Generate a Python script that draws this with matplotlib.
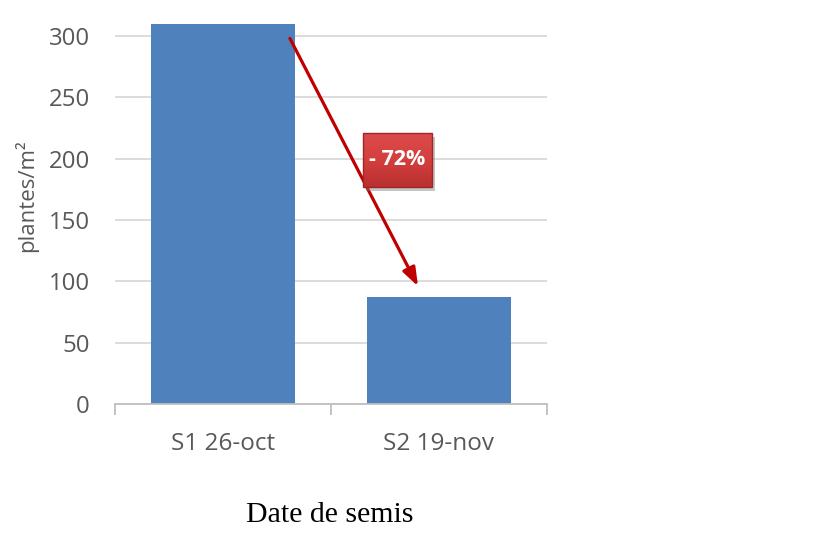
import matplotlib
matplotlib.use("Agg")
import matplotlib.pyplot as plt
import numpy as np
from matplotlib.patches import Rectangle
from matplotlib.colors import LinearSegmentedColormap

categories = ["S1 26-oct", "S2 19-nov"]
values = [310, 87]
yticks = [0, 50, 100, 150, 200, 250, 300]
change_label = "- 72%"
xlabel = "Date de semis"
ylabel = "plantes/m²"

fig = plt.figure(figsize=(8.2, 5.37), dpi=100)
ax = fig.add_axes([0.1402, 0.2477, 0.667 - 0.1402, 0.9559 - 0.2477])

x = np.arange(len(categories))
ax.bar(x, values, width=0.667, color="#4F81BD", zorder=2)
ax.set_xlim(-0.5, 1.5)
ax.set_ylim(0, 310)
ax.set_yticks(yticks)
ax.yaxis.grid(True, color="#D9D9D9", linewidth=1.3, zorder=0)
ax.set_axisbelow(True)
for s in ["top", "right", "left"]:
    ax.spines[s].set_visible(False)
ax.spines["bottom"].set_color("#BFBFBF")
ax.spines["bottom"].set_linewidth(1.3)
ax.tick_params(axis="y", length=0, labelsize=17.3, labelcolor="#595959", pad=18)
ax.set_xticks([-0.5, 0.5, 1.5], minor=False)
ax.set_xticklabels([])
ax.tick_params(axis="x", which="major", length=8, color="#BFBFBF", width=1.3)
ax.set_xticks(x, minor=True)
ax.set_xticklabels(categories, minor=True)
ax.tick_params(axis="x", which="minor", length=0, labelsize=17.5, labelcolor="#595959", pad=20)
for lab in ax.get_yticklabels() + ax.get_xticklabels(minor=True):
    lab.set_fontfamily("Open Sans")

ax.set_ylabel(ylabel, fontsize=16, color="#595959", fontfamily="Open Sans")
ax.yaxis.set_label_coords(-0.178, 0.547)

fig.text(330 / 820, 1 - 515 / 537, xlabel, ha="center", va="center",
         fontsize=21.5, fontfamily="Liberation Serif", color="black")

ax.annotate("", xy=(0.903, 96), xytext=(0.31, 298),
            arrowprops=dict(arrowstyle="-|>,head_length=0.55,head_width=0.2", color="#C00000", lw=2.3,
                            mutation_scale=20, shrinkA=0, shrinkB=0),
            zorder=5, annotation_clip=False)

# label box (annotation decoration) sized in pixels
pxx = 2.0 / 432.0           # data units per pixel in x
pxy = 310.0 / 380.3         # data units per pixel in y
cx, cy = 0.808, 199
w, h = 69 * pxx, 54 * pxy
shadow = Rectangle((cx - w / 2 + 3 * pxx, cy - h / 2 - 4 * pxy), w, h,
                   facecolor="#7f7f7f", edgecolor="none", alpha=0.45, zorder=5)
ax.add_patch(shadow)
box = Rectangle((cx - w / 2, cy - h / 2), w, h, facecolor="none",
                edgecolor="#A02626", linewidth=1.0, zorder=7)
ax.add_patch(box)
cmap = LinearSegmentedColormap.from_list("rg", ["#BA3030", "#D43F3F", "#DC4C4C"])
grad = np.linspace(0, 1, 64).reshape(-1, 1)
im = ax.imshow(grad, cmap=cmap, origin="lower", aspect="auto",
               extent=(cx - w / 2, cx + w / 2, cy - h / 2, cy + h / 2), zorder=6)
im.set_clip_path(box)
ax.set_xlim(-0.5, 1.5)
ax.set_ylim(0, 310)
ax.text(cx, cy, change_label, ha="center", va="center",
        fontsize=15.5, fontweight="bold", color="white", fontfamily="Open Sans", zorder=8)

fig.savefig("out.png", dpi=100)
